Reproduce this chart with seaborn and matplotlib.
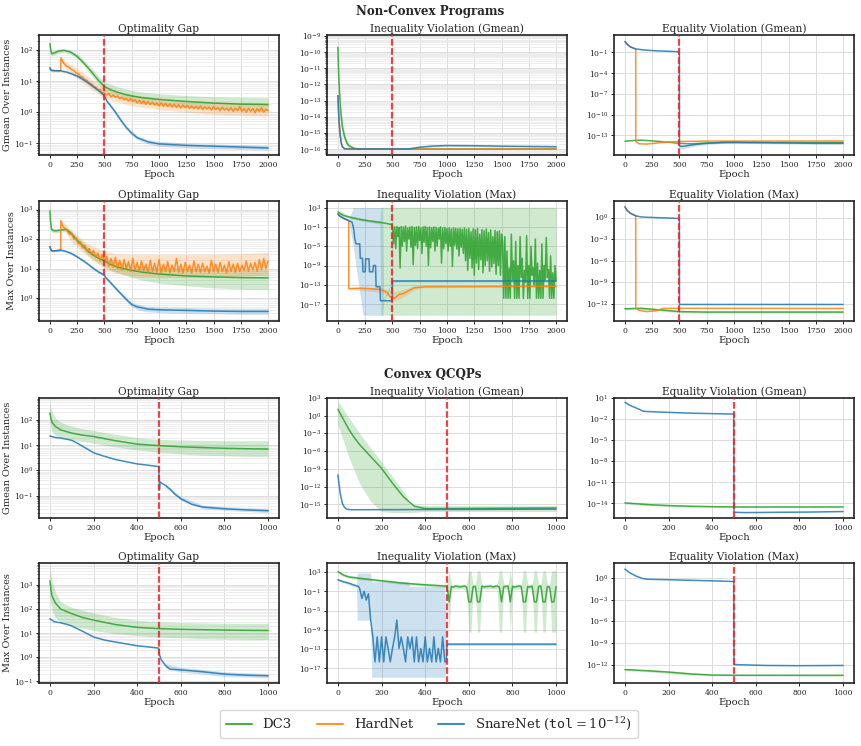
import numpy as np
import matplotlib
matplotlib.use('Agg')
import matplotlib.pyplot as plt
import seaborn as sns
from matplotlib.lines import Line2D
from matplotlib.ticker import FixedLocator, LogLocator, NullLocator, NullFormatter, LogFormatterSciNotation

sns.set_theme(style='whitegrid')
plt.rcParams.update({
    'font.family': ['DejaVu Serif'],
    'mathtext.fontset': 'dejavuserif',
    'axes.edgecolor': '#222222',
    'axes.linewidth': 1.2,
    'xtick.bottom': True, 'ytick.left': True,
    'xtick.major.size': 2.5, 'ytick.major.size': 2.5, 'ytick.minor.size': 1.5,
    'xtick.major.width': 0.7, 'ytick.major.width': 0.7, 'ytick.minor.width': 0.5,
    'xtick.major.pad': 1.5, 'ytick.major.pad': 1.5,
    'xtick.color': '#222222', 'ytick.color': '#222222',
    'xtick.labelsize': 5.5, 'ytick.labelsize': 5.5,
})

GREEN, ORANGE, BLUE = '#2ca02c', '#ff7f0e', '#1f77b4'

def L(v):
    return 10.0 ** np.asarray(v, dtype=float)

def grid(start, n, step):
    return list(range(start, start + step * n, step))

# ================= Non-convex programs =================
# A: Gmean optimality gap
a_dc3_x = [0, 5, 15, 40, 80, 130, 190, 250, 310, 375, 440, 500, 560, 625, 700, 750, 850, 1000, 1250, 1500, 1750, 2000]
a_dc3_y = [160, 110, 75, 80, 92, 97, 85, 62, 38, 21, 11, 6.6, 5.2, 4.3, 3.6, 3.3, 2.9, 2.55, 2.2, 1.95, 1.8, 1.75]
a_dc3_lo = [120, 85, 62, 68, 80, 86, 74, 52, 31, 16, 8.2, 4.6, 3.5, 2.8, 2.3, 2.1, 1.8, 1.6, 1.4, 1.25, 1.15, 1.1]
a_dc3_hi = [200, 140, 90, 95, 106, 110, 98, 74, 47, 28, 15, 9.5, 7.8, 6.5, 5.5, 5.0, 4.4, 3.9, 3.4, 3.1, 3.0, 2.9]
a_hn_head_x = [0, 10, 50, 99]
a_hn_head_y = [25, 22, 21.5, 21.5]
a_hn_tail = [55, 40, 33, 29, 27, 23, 22, 18, 17.5, 14,
             13.5, 11, 10.5, 8.6, 8.2, 6.6, 6.4, 5.2, 5.4, 4.3,
             4.1, 3.6, 3.9, 3.1, 3.5, 3.0, 3.3, 2.7, 3.0, 2.5,
             2.8, 2.3, 2.7, 2.2, 2.5, 2.0, 2.4, 1.9, 2.3, 1.8,
             2.2, 1.75, 2.1, 1.7, 1.95, 1.6, 2.0, 1.55, 1.9, 1.5,
             1.85, 1.45, 1.8, 1.4, 1.75, 1.35, 1.7, 1.4, 1.65, 1.3,
             1.6, 1.3, 1.55, 1.25, 1.6, 1.2, 1.5, 1.25, 1.45, 1.15,
             1.5, 1.2, 1.4, 1.1, 1.45, 1.15, 1.35, 1.1, 1.4, 1.05,
             1.35, 1.1, 1.5, 1.05, 1.3, 1.0, 1.35, 1.05, 1.3, 0.95,
             1.3, 1.05, 1.4, 1.0, 1.25, 1.1]
a_hn_bx = [100, 150, 200, 300, 400, 500, 600, 750, 1000, 1250, 1500, 1750, 2000]
a_hn_lo = [45, 22, 17, 9, 4.8, 2.8, 2.2, 1.6, 1.2, 1.0, 0.85, 0.8, 0.75]
a_hn_hi = [65, 40, 32, 19, 10, 6.0, 4.8, 3.7, 2.8, 2.4, 2.2, 2.1, 2.0]
a_sn_x = [0, 10, 50, 100, 150, 200, 250, 300, 350, 400, 450, 500, 520, 550, 600, 650, 700, 750, 800, 900, 1000, 1250, 1500, 1750, 2000]
a_sn_y = [27, 22, 21.5, 21.3, 19.5, 17, 14.5, 11.5, 8.8, 6.5, 4.8, 3.4, 2.3, 1.7, 1.0, 0.55, 0.32, 0.21, 0.15, 0.11, 0.095, 0.085, 0.08, 0.075, 0.07]
a_sn_lo = [25, 20, 20, 20, 18, 15.5, 13, 10.3, 7.9, 5.8, 4.3, 3.0, 2.0, 1.5, 0.88, 0.48, 0.28, 0.18, 0.13, 0.095, 0.08, 0.072, 0.067, 0.063, 0.06]
a_sn_hi = [29, 24, 23, 22.6, 21, 18.5, 16, 12.7, 9.7, 7.2, 5.3, 3.8, 2.6, 1.9, 1.13, 0.63, 0.37, 0.245, 0.175, 0.13, 0.115, 0.1, 0.095, 0.09, 0.085]

# B: Gmean inequality violation
b_dc3_x = [0, 3, 8, 15, 25, 40, 60, 80, 100, 150, 200, 2000]
b_dc3_y = [2e-10, 3e-11, 3e-12, 3e-13, 2.5e-14, 2.5e-15, 6e-16, 2.5e-16, 1.6e-16, 1.1e-16, 1.0e-16, 1.0e-16]
b_dc3_lo = [1e-10, 1.5e-11, 1.5e-12, 1.5e-13, 1.2e-14, 1.2e-15, 3.5e-16, 1.7e-16, 1.2e-16, 1.0e-16, 0.95e-16, 0.95e-16]
b_dc3_hi = [6e-10, 8e-11, 8e-12, 8e-13, 6e-14, 6e-15, 1.2e-15, 4e-16, 2.2e-16, 1.25e-16, 1.05e-16, 1.05e-16]
b_hn_x = [0, 5, 10, 20, 30, 40, 60, 100, 2000]
b_hn_y = [2e-13, 3e-14, 6e-15, 8e-16, 2.5e-16, 1.4e-16, 1.05e-16, 1.0e-16, 1.0e-16]
b_sn_x = [0, 5, 10, 20, 30, 40, 60, 100, 650, 750, 850, 1000, 1250, 1500, 1750, 2000]
b_sn_y = [2e-13, 3e-14, 6e-15, 8e-16, 2.5e-16, 1.4e-16, 1.05e-16, 1.0e-16, 1.02e-16, 1.3e-16, 1.5e-16, 1.65e-16, 1.6e-16, 1.5e-16, 1.45e-16, 1.4e-16]
b_sn_lo = [1e-13, 1.5e-14, 3e-15, 5e-16, 2e-16, 1.2e-16, 1.0e-16, 0.97e-16, 0.98e-16, 1.15e-16, 1.3e-16, 1.45e-16, 1.4e-16, 1.32e-16, 1.3e-16, 1.25e-16]
b_sn_hi = [4e-13, 6e-14, 1.2e-14, 1.5e-15, 3.5e-16, 1.7e-16, 1.1e-16, 1.03e-16, 1.07e-16, 1.45e-16, 1.7e-16, 1.9e-16, 1.85e-16, 1.7e-16, 1.65e-16, 1.58e-16]

# C: Gmean equality violation
c_dc3_x = [0, 100, 150, 250, 400, 500, 600, 750, 1000, 1500, 2000]
c_dc3_y = [1.4e-14, 1.9e-14, 2e-14, 1.6e-14, 1e-14, 7e-15, 6e-15, 8e-15, 9e-15, 9e-15, 9e-15]
c_hn_x = [0, 20, 50, 99, 100, 130, 200, 300, 400, 500, 750, 1000, 2000]
c_hn_y = [3.5, 1.5, 0.6, 0.3, 1.2e-14, 6e-15, 5.5e-15, 8e-15, 1.1e-14, 1.3e-14, 1.5e-14, 1.5e-14, 1.5e-14]
c_sn_x = [0, 20, 50, 100, 200, 300, 400, 499, 500, 520, 560, 650, 750, 900, 1000, 1250, 1500, 1750, 2000]
c_sn_y = [3.5, 1.5, 0.6, 0.3, 0.2, 0.16, 0.14, 0.12, 3e-15, 2.5e-15, 3e-15, 5e-15, 7e-15, 1e-14, 1e-14, 9e-15, 8e-15, 7e-15, 7e-15]
c_sn_bx = [500, 520, 560, 650, 750, 900, 1000, 1250, 1500, 1750, 2000]
c_sn_lo = [1.2e-15, 1e-15, 1.5e-15, 3e-15, 4.5e-15, 7e-15, 7e-15, 6.3e-15, 5.5e-15, 5e-15, 5e-15]
c_sn_hi = [5e-15, 4.5e-15, 5e-15, 7e-15, 1e-14, 1.4e-14, 1.4e-14, 1.3e-14, 1.15e-14, 1e-14, 1e-14]

# D: Max optimality gap
d_dc3_x = [0, 5, 15, 40, 80, 150, 200, 250, 300, 350, 400, 450, 500, 550, 625, 700, 750, 850, 1000, 1250, 1500, 1750, 2000]
d_dc3_y = [900, 400, 210, 190, 195, 215, 150, 90, 60, 38, 28, 22, 18, 14, 11, 9.5, 8.6, 7.5, 6.5, 5.6, 5.2, 4.9, 4.8]
d_dc3_lo = [600, 300, 170, 160, 165, 180, 120, 70, 45, 28, 20, 15, 12, 9, 7, 5.8, 5, 4, 3.2, 2.6, 2.2, 2.0, 1.9]
d_dc3_hi = [1200, 500, 250, 225, 230, 250, 185, 115, 80, 52, 40, 32, 27, 21, 17, 15, 13, 12, 11, 10, 9.5, 9, 9]
d_hn_head_x = [0, 5, 15, 50, 99]
d_hn_head_y = [55, 48, 40, 40, 42]
d_hn_tail = [420, 260, 230, 190, 140, 150, 100, 110, 70, 80,
             50, 62, 38, 48, 30, 40, 24, 33, 18, 30,
             16, 26, 12, 22, 11, 24, 10, 19, 9, 20,
             10, 17, 8, 22, 9, 16, 8, 18, 8.5, 14,
             7, 19, 8, 15, 7.5, 20, 7, 14, 8, 17,
             7, 13, 8, 22, 7.5, 14, 7, 16, 8, 13,
             7, 18, 8, 14, 7.5, 15, 8, 12, 7, 19,
             8, 14, 7.5, 16, 8, 13, 7, 17, 8, 14,
             7.5, 15, 8, 13, 8.5, 18, 8, 15, 9, 16,
             8, 20, 9, 22, 10, 18]
d_hn_bx = [100, 150, 200, 300, 400, 500, 600, 750, 1000, 1250, 1500, 1750, 2000]
d_hn_lo = [300, 150, 80, 35, 18, 10, 7, 5.5, 5, 5, 5, 5.5, 6]
d_hn_hi = [500, 300, 200, 90, 55, 40, 32, 30, 30, 30, 30, 32, 35]
d_sn_x = [0, 5, 15, 50, 100, 150, 200, 250, 300, 350, 400, 450, 500, 510, 550, 600, 650, 700, 750, 800, 900, 1000, 1250, 1500, 1750, 2000]
d_sn_y = [55, 48, 40, 40, 42, 38, 32, 25, 19, 14, 10, 7.5, 6, 5, 3.5, 2.2, 1.4, 0.9, 0.6, 0.5, 0.42, 0.4, 0.38, 0.36, 0.35, 0.35]
d_sn_lo = [50, 44, 37, 37, 39, 35, 29, 23, 17, 12.7, 9, 6.8, 5.4, 4.5, 3.1, 1.95, 1.2, 0.78, 0.5, 0.4, 0.34, 0.32, 0.3, 0.29, 0.28, 0.28]
d_sn_hi = [60, 52, 43, 43, 45, 41, 35, 27, 21, 15.5, 11, 8.3, 6.7, 5.6, 3.9, 2.5, 1.6, 1.05, 0.72, 0.62, 0.52, 0.5, 0.48, 0.46, 0.45, 0.45]

# E: Max inequality violation (log10 values)
e_dc3_head_x = [0, 20, 50, 100, 150, 200, 250, 300, 350, 400, 450, 490]
e_dc3_head_log = [2.1, 1.8, 1.4, 1.07, 0.8, 0.55, 0.38, 0.2, 0.05, -0.1, -0.3, -0.5]
e_dc3_tail_log = [
    -0.8, -4.5, -1.0, -5.5, -0.9, -3.0, -1.1, -9.5, -0.9, -5.0, -1.0, -4.0, -0.8, -6.0, -1.2, -3.5,
    -1.0, -5.2, -0.9, -8.8, -1.1, -4.8, -1.0, -5.5, -0.9, -3.8, -1.2, -6.5, -1.0, -4.2, -0.9, -5.0,
    -1.1, -9.0, -1.0, -5.3, -1.2, -4.0, -1.0, -6.0, -1.1, -5.0, -1.3, -3.5, -1.0, -8.5, -1.2, -5.5,
    -1.1, -4.5, -1.3, -6.0, -1.2, -5.0, -1.4, -9.2, -1.2, -4.8, -1.3, -5.6, -1.4, -7.0, -1.3, -5.2,
    -1.5, -6.5,
    -1.2, -8.0, -1.5, -10.0, -1.3, -7.5, -2.0, -9.5, -1.4, -11.0, -1.6, -8.5, -1.3, -9.8, -2.5, -7.8,
    -1.5, -10.5, -1.8, -9.0, -1.4, -8.0, -2.2, -10.2, -1.6, -9.3, -3.0, -8.6, -1.7, -10.8, -2.0, -9.0,
    -1.8, -11.0, -2.5,
    -4.0, -15.8, -3.0, -15.8, -6.0, -15.8, -9.5, -15.8, -2.5, -12.0, -8.0, -15.8, -4.0, -15.8, -9.0,
    -15.8, -3.0, -11.5, -7.5, -15.8, -10.0, -12.5, -2.8, -15.8, -9.0, -15.8, -5.0, -11.0, -9.5, -13.0,
    -3.5, -15.8, -8.5, -15.8, -10.0, -15.8, -4.5, -15.8, -9.0, -12.0, -3.2, -11.5, -9.8, -15.8, -7.0,
    -15.8, -10.5, -15.8, -9.0, -12.0]
e_dc3_bx = [0, 100, 300, 385, 395, 2000]
e_dc3_hi_log = [2.5, 1.4, 0.5, 0.3, 3.1, 3.1]
e_dc3_lo_log = [1.7, 0.8, -0.1, -0.4, -19.3, -19.3]
e_hn_x = [0, 20, 50, 99, 100, 200, 300, 400, 450, 480, 520, 560, 600, 650, 700, 800, 2000]
e_hn_log = [1.7, 1.2, 0.8, 0.3, -13.8, -13.7, -13.8, -14.0, -14.6, -15.5, -15.8, -15.0, -14.8, -14.2, -13.6, -13.4, -13.3]
e_hn_bx = [100, 400, 450, 500, 560, 650, 700, 800, 2000]
e_hn_hi_log = [-13.5, -13.6, -14.0, -14.5, -14.2, -13.6, -13.3, -13.2, -13.1]
e_hn_lo_log = [-14.0, -14.5, -15.3, -16.3, -16.0, -14.8, -14.0, -13.6, -13.5]
e_sn_x = [0, 20, 50, 100, 130, 145, 155, 165, 200, 205, 225, 230, 250, 255, 285, 290, 320, 325, 345, 350, 385, 390, 498, 500, 2000]
e_sn_log = [1.7, 1.2, 0.8, 0.3, 0.0, -1.5, -3.5, -4.5, -4.5, -7.5, -7.5, -10.3, -10.3, -7.6, -7.6, -10.3, -10.3, -9.0, -9.0, -13.4, -13.4, -16.3, -16.3, -12.2, -12.2]
e_sn_bx = [0, 100, 140, 230, 410, 420, 500, 2000]
e_sn_hi_log = [1.9, 0.6, 3.0, 3.0, 3.0, -16.0, -12.0, -12.0]
e_sn_lo_log = [1.5, 0.0, -5.0, -19.3, -19.3, -16.6, -12.4, -12.4]

# F: Max equality violation
f_dc3_x = [0, 100, 150, 250, 400, 500, 750, 1000, 2000]
f_dc3_y = [2e-13, 2.2e-13, 2.3e-13, 1.7e-13, 1.1e-13, 8e-14, 7e-14, 7e-14, 7e-14]
f_dc3_lo = [1.3e-13, 1.5e-13, 1.6e-13, 1.2e-13, 7.5e-14, 5.5e-14, 4.8e-14, 4.8e-14, 4.8e-14]
f_dc3_hi = [3e-13, 3.2e-13, 3.3e-13, 2.5e-13, 1.6e-13, 1.15e-13, 1e-13, 1e-13, 1e-13]
f_hn_x = [0, 20, 50, 99, 100, 130, 200, 280, 350, 500, 2000]
f_hn_y = [30, 10, 4, 1.7, 2.5e-13, 1.2e-13, 8e-14, 1e-13, 2.2e-13, 2.3e-13, 2.2e-13]
f_sn_x = [0, 20, 50, 100, 150, 200, 300, 400, 499, 500, 2000]
f_sn_y = [30, 10, 4, 1.7, 1.2, 1.1, 0.95, 0.85, 0.73, 8e-13, 8e-13]

# ================= Convex QCQPs =================
# G: Gmean optimality gap
g_dc3_x = [0, 5, 10, 25, 50, 100, 150, 200, 300, 400, 500, 600, 700, 800, 900, 1000]
g_dc3_y = [190, 110, 80, 55, 40, 30, 25, 22, 15, 11, 9.5, 8.6, 8.0, 7.5, 7.2, 7.0]
g_dc3_lo = [90, 50, 35, 25, 19, 16, 14, 12, 8.5, 6.5, 5.2, 4.5, 4.0, 3.8, 3.6, 3.5]
g_dc3_hi = [500, 300, 200, 120, 80, 55, 45, 38, 27, 20, 17, 16, 15.5, 15, 15, 15]
g_sn_x = [0, 25, 50, 80, 100, 125, 150, 200, 250, 300, 350, 400, 450, 499, 500, 502, 505, 515, 530, 550, 575, 600, 650, 700, 800, 900, 1000]
g_sn_y = [23, 20, 19, 17, 15.5, 12, 9, 5, 3.6, 2.7, 2.2, 1.8, 1.6, 1.4, 0.6, 0.17, 0.35, 0.3, 0.25, 0.18, 0.11, 0.075, 0.045, 0.035, 0.03, 0.027, 0.025]
g_sn_bx = [530, 600, 700, 800, 1000]
g_sn_lo = [0.22, 0.065, 0.03, 0.026, 0.021]
g_sn_hi = [0.29, 0.09, 0.042, 0.036, 0.031]

# H: Gmean inequality violation (log10)
h_dc3_x = [0, 25, 50, 75, 100, 150, 200, 250, 300, 350, 400, 500, 1000]
h_dc3_log = [1.1, -0.6, -2.3, -3.7, -4.9, -6.9, -8.9, -11.4, -13.7, -15.3, -15.7, -15.7, -15.6]
h_dc3_bx = [0, 50, 100, 150, 200, 250, 300, 315, 330, 400, 500, 1000]
h_dc3_hi_log = [2.5, -0.3, -3.0, -5.5, -7.8, -10.3, -12.8, -13.6, -15.0, -15.2, -15.2, -15.2]
h_dc3_lo_log = [-1.5, -7.0, -11.5, -14.5, -16.2, -16.4, -16.4, -16.4, -16.4, -16.2, -16.2, -16.2]
h_sn_x = [0, 5, 10, 20, 30, 40, 60, 100, 1000]
h_sn_log = [-10.0, -11.5, -13.0, -14.8, -15.5, -15.8, -15.9, -15.9, -15.8]

# I: Gmean equality violation
i_dc3_x = [0, 100, 200, 300, 400, 500, 1000]
i_dc3_y = [1.2e-14, 7e-15, 5e-15, 4e-15, 3.5e-15, 3.2e-15, 3.2e-15]
i_dc3_lo = [8e-15, 5e-15, 3.5e-15, 3e-15, 2.8e-15, 2.8e-15, 2.8e-15]
i_dc3_hi = [1.6e-14, 1e-14, 7e-15, 5.5e-15, 4.2e-15, 3.7e-15, 3.7e-15]
i_sn_x = [0, 20, 50, 85, 100, 200, 300, 400, 499, 500, 550, 700, 850, 1000]
i_sn_y = [2.5, 1.0, 0.4, 0.13, 0.12, 0.09, 0.07, 0.06, 0.052, 5.5e-16, 5e-16, 5.5e-16, 6e-16, 7e-16]

# J: Max optimality gap
j_dc3_x = [0, 5, 10, 25, 50, 100, 150, 200, 300, 400, 500, 600, 700, 800, 900, 1000]
j_dc3_y = [1500, 600, 350, 180, 100, 65, 45, 35, 23, 17.5, 15.5, 14.5, 14, 13.5, 13.2, 13]
j_dc3_lo = [300, 150, 90, 45, 28, 20, 16, 13, 9.5, 8, 7, 6.5, 6, 5.8, 5.6, 5.5]
j_dc3_hi = [8000, 3000, 1500, 500, 200, 120, 90, 70, 45, 35, 30, 28, 27, 26, 26, 26]
j_sn_x = [0, 20, 50, 80, 100, 150, 200, 250, 300, 350, 400, 450, 499, 502, 510, 530, 550, 600, 700, 800, 900, 1000]
j_sn_y = [40, 30, 27, 23, 20, 12, 7, 5.2, 4.3, 3.6, 3.0, 2.7, 2.4, 1.3, 0.8, 0.45, 0.32, 0.3, 0.25, 0.2, 0.18, 0.17]
j_sn_bx = [530, 600, 700, 800, 1000]
j_sn_lo = [0.36, 0.24, 0.2, 0.16, 0.14]
j_sn_hi = [0.55, 0.38, 0.31, 0.25, 0.21]

# K: Max inequality violation (log10)
k_dc3_head_x = [0, 25, 50, 100, 150, 200, 300, 400, 490]
k_dc3_head_log = [3.1, 2.4, 2.0, 1.7, 1.45, 1.2, 0.7, 0.35, 0.1]
k_dc3_head_hi = [3.4, 2.7, 2.3, 2.0, 1.7, 1.45, 1.0, 0.65, 0.45]
k_dc3_head_lo = [2.8, 2.1, 1.7, 1.4, 1.2, 0.95, 0.4, 0.05, -0.2]
k_dc3_tail_log = [0.1, -3.2, 0.0, -0.1, 0.1, 0.0, -0.1, 0.0, 0.1, -0.1,
                  -3.2, -3.2, 0.0, 0.0, -3.2, -3.2, 0.1, -0.1, 0.0, 0.0,
                  0.1, -0.1, 0.0, 0.1, -0.1, -3.2, 0.0, 0.0, 0.1, -3.2,
                  0.0, -0.1, 0.0, 0.1, 0.0, -3.2, -3.2, 0.0, -0.1, 0.1,
                  -3.2, -3.2, 0.0, 0.1, -3.2, -3.2, 0.0, -0.1, -3.2, -3.2,
                  0.0]
k_dc3_tail_hi = [0.5, 3.3, 0.5, 0.4, 0.5, 0.5, 0.4, 0.5, 0.5, 0.4,
                 3.3, 3.2, 0.5, 0.5, 3.3, 3.3, 0.5, 0.4, 0.5, 0.5,
                 0.5, 0.4, 0.5, 0.5, 3.2, 3.3, 0.5, 0.5, 0.5, 3.3,
                 0.5, 0.4, 0.5, 0.5, 0.5, 3.3, 3.3, 0.5, 0.4, 0.5,
                 3.3, 3.3, 0.5, 0.5, 3.3, 3.3, 0.5, 0.5, 3.3, 3.3,
                 3.3]
k_dc3_tail_lo = [-0.5, -9.5, -0.6, -0.5, -0.5, -0.6, -0.5, -0.5, -0.6, -0.5,
                 -9.5, -9.5, -0.5, -0.6, -9.5, -9.5, -0.5, -0.5, -0.6, -0.5,
                 -0.5, -0.6, -0.5, -0.5, -9.5, -9.5, -0.5, -0.6, -0.5, -9.5,
                 -0.5, -0.5, -0.6, -0.5, -0.5, -9.5, -9.5, -0.5, -0.6, -0.5,
                 -9.5, -9.5, -0.5, -0.5, -9.5, -9.5, -0.5, -0.6, -9.5, -9.5,
                 -9.5]
k_sn_head_x = [0, 25, 50, 75, 95]
k_sn_head_log = [1.4, 1.0, 0.7, 0.3, 0.0]
k_sn_mid_log = [-0.5, -2.5, -1.0, -2.8, -1.5, -7.0, -10.5, -15.7, -10.5, -15.7,
                -10.5, -15.7, -10.5, -12.9, -15.7, -12.9, -10.5, -7.0, -12.9, -10.5,
                -12.9, -15.7, -10.5, -12.9, -10.5, -15.7, -10.5, -15.7, -12.9, -15.7,
                -10.5, -15.7, -12.9, -15.7, -10.5, -15.7, -12.9, -15.7, -10.5, -15.7]
k_sn_end_x = [497, 500, 1000]
k_sn_end_log = [-15.7, -12.0, -12.0]
k_sn_bx = [0, 85, 88, 150, 155, 320, 330, 490, 495, 500, 1000]
k_sn_hi_log = [1.6, 0.3, 2.8, 2.8, 1.0, 1.0, 0.0, 0.0, -11.5, -11.8, -11.8]
k_sn_lo_log = [1.2, -0.2, -7.0, -7.0, -18.9, -18.9, -18.9, -18.9, -16.0, -12.3, -12.3]

# L: Max equality violation
l_dc3_x = [0, 100, 200, 300, 400, 500, 1000]
l_dc3_y = [2e-13, 1.4e-13, 9e-14, 5e-14, 3.5e-14, 3.3e-14, 3.2e-14]
l_dc3_lo = [1.5e-13, 1e-13, 6e-14, 3.5e-14, 2.7e-14, 2.6e-14, 2.6e-14]
l_dc3_hi = [2.7e-13, 2e-13, 1.4e-13, 8e-14, 4.5e-14, 4.2e-14, 4.2e-14]
l_sn_x = [0, 20, 50, 80, 100, 200, 300, 400, 499, 500, 550, 650, 800, 1000]
l_sn_y = [18, 6, 2, 0.9, 0.7, 0.6, 0.5, 0.42, 0.34, 1.0e-12, 9e-13, 7.5e-13, 7e-13, 7.5e-13]


def S(x, y, color, bx=None, lo=None, hi=None):
    return dict(x=list(x), y=np.asarray(y, dtype=float), color=color, bx=bx, lo=lo, hi=hi)


e_dc3_x = e_dc3_head_x + grid(500, len(e_dc3_tail_log), 10)
k_dc3_x = k_dc3_head_x + grid(500, len(k_dc3_tail_log), 10)
k_sn_x = k_sn_head_x + grid(100, len(k_sn_mid_log), 10) + k_sn_end_x

panels = [
    # (row, col, title, ylim(log10), yticks(log10), minor, series)
    (0, 0, 'Optimality Gap', (-1.38, 2.48), [-1, 0, 1, 2], True, [
        S(a_dc3_x, a_dc3_y, GREEN, a_dc3_x, a_dc3_lo, a_dc3_hi),
        S(a_hn_head_x + grid(100, len(a_hn_tail), 20), a_hn_head_y + a_hn_tail, ORANGE, a_hn_bx, a_hn_lo, a_hn_hi),
        S(a_sn_x, a_sn_y, BLUE, a_sn_x, a_sn_lo, a_sn_hi)]),
    (0, 1, 'Inequality Violation (Gmean)', (-16.37, -8.94), list(range(-16, -8)), True, [
        S(b_dc3_x, b_dc3_y, GREEN, b_dc3_x, b_dc3_lo, b_dc3_hi),
        S(b_hn_x, b_hn_y, ORANGE),
        S(b_sn_x, b_sn_y, BLUE, b_sn_x, b_sn_lo, b_sn_hi)]),
    (0, 2, 'Equality Violation (Gmean)', (-15.84, 1.5), [-13, -10, -7, -4, -1], False, [
        S(c_dc3_x, c_dc3_y, GREEN),
        S(c_hn_x, c_hn_y, ORANGE),
        S(c_sn_x, c_sn_y, BLUE, c_sn_bx, c_sn_lo, c_sn_hi)]),
    (1, 0, 'Optimality Gap', (-0.78, 3.29), [0, 1, 2, 3], True, [
        S(d_dc3_x, d_dc3_y, GREEN, d_dc3_x, d_dc3_lo, d_dc3_hi),
        S(d_hn_head_x + grid(100, len(d_hn_tail), 20), d_hn_head_y + d_hn_tail, ORANGE, d_hn_bx, d_hn_lo, d_hn_hi),
        S(d_sn_x, d_sn_y, BLUE, d_sn_x, d_sn_lo, d_sn_hi)]),
    (1, 1, 'Inequality Violation (Max)', (-20.5, 4.38), [-17, -13, -9, -5, -1, 3], False, [
        S(e_dc3_x, L(e_dc3_head_log + e_dc3_tail_log), GREEN, e_dc3_bx, L(e_dc3_lo_log), L(e_dc3_hi_log)),
        S(e_hn_x, L(e_hn_log), ORANGE, e_hn_bx, L(e_hn_lo_log), L(e_hn_hi_log)),
        S(e_sn_x, L(e_sn_log), BLUE, e_sn_bx, L(e_sn_lo_log), L(e_sn_hi_log))]),
    (1, 2, 'Equality Violation (Max)', (-14.4, 2.3), [-12, -9, -6, -3, 0], False, [
        S(f_dc3_x, f_dc3_y, GREEN, f_dc3_x, f_dc3_lo, f_dc3_hi),
        S(f_hn_x, f_hn_y, ORANGE),
        S(f_sn_x, f_sn_y, BLUE)]),
    (2, 0, 'Optimality Gap', (-1.89, 2.87), [-1, 0, 1, 2], True, [
        S(g_dc3_x, g_dc3_y, GREEN, g_dc3_x, g_dc3_lo, g_dc3_hi),
        S(g_sn_x, g_sn_y, BLUE, g_sn_bx, g_sn_lo, g_sn_hi)]),
    (2, 1, 'Inequality Violation (Gmean)', (-17.3, 3.0), [-15, -12, -9, -6, -3, 0, 3], False, [
        S(h_dc3_x, L(h_dc3_log), GREEN, h_dc3_bx, L(h_dc3_lo_log), L(h_dc3_hi_log)),
        S(h_sn_x, L(h_sn_log), BLUE)]),
    (2, 2, 'Equality Violation (Gmean)', (-16.07, 1.0), [-14, -11, -8, -5, -2, 1], False, [
        S(i_dc3_x, i_dc3_y, GREEN, i_dc3_x, i_dc3_lo, i_dc3_hi),
        S(i_sn_x, i_sn_y, BLUE)]),
    (3, 0, 'Optimality Gap', (-1.07, 3.92), [-1, 0, 1, 2, 3], True, [
        S(j_dc3_x, j_dc3_y, GREEN, j_dc3_x, j_dc3_lo, j_dc3_hi),
        S(j_sn_x, j_sn_y, BLUE, j_sn_bx, j_sn_lo, j_sn_hi)]),
    (3, 1, 'Inequality Violation (Max)', (-20.1, 4.9), [-17, -13, -9, -5, -1, 3], False, [
        S(k_dc3_x, L(k_dc3_head_log + k_dc3_tail_log), GREEN, k_dc3_x,
          L(k_dc3_head_lo + k_dc3_tail_lo), L(k_dc3_head_hi + k_dc3_tail_hi)),
        S(k_sn_x, L(k_sn_head_log + k_sn_mid_log + k_sn_end_log), BLUE, k_sn_bx, L(k_sn_lo_log), L(k_sn_hi_log))]),
    (3, 2, 'Equality Violation (Max)', (-14.56, 2.1), [-12, -9, -6, -3, 0], False, [
        S(l_dc3_x, l_dc3_y, GREEN, l_dc3_x, l_dc3_lo, l_dc3_hi),
        S(l_sn_x, l_sn_y, BLUE)]),
]

W, H = 861, 746
fig = plt.figure(figsize=(W / 100, H / 100), dpi=100)
col_x = [39, 327, 614]
row_y = [35, 201, 398, 563]
ylabels = ['Gmean Over Instances', 'Max Over Instances', 'Gmean Over Instances', 'Max Over Instances']

for row, col, title, ylim, yt, minor, series in panels:
    ax = fig.add_axes([col_x[col] / W, 1 - (row_y[row] + 120) / H, 240 / W, 120 / H])
    ax.set_yscale('log')
    nonconvex = row < 2
    for s in series:
        if s['lo'] is not None:
            ax.fill_between(s['bx'], s['lo'], s['hi'], color=s['color'], alpha=0.22, lw=0, zorder=1)
    for s in series:
        sns.lineplot(x=s['x'], y=s['y'], ax=ax, color=s['color'], lw=1.1, alpha=0.85,
                     estimator=None, sort=False, legend=False, zorder=3)
    ax.axvline(500, color='#e8262b', lw=1.6, alpha=0.85, ls=(0, (3.0, 1.1)), zorder=4)
    ax.set_ylim(10.0 ** ylim[0], 10.0 ** ylim[1])
    ax.yaxis.set_major_locator(FixedLocator([10.0 ** k for k in yt]))
    ax.yaxis.set_major_formatter(LogFormatterSciNotation())
    if minor:
        ax.yaxis.set_minor_locator(LogLocator(base=10, subs=np.arange(2, 10), numticks=60))
    else:
        ax.yaxis.set_minor_locator(NullLocator())
    ax.yaxis.set_minor_formatter(NullFormatter())
    if nonconvex:
        ax.set_xlim(-100, 2100)
        ax.set_xticks(range(0, 2001, 250))
    else:
        ax.set_xlim(-50, 1050)
        ax.set_xticks(range(0, 1001, 200))
    ax.grid(True, which='major', color='#dcdcdc', lw=0.7)
    ax.grid(True, which='minor', axis='y', color='#e8e8e8', lw=0.55)
    ax.set_axisbelow(True)
    ax.set_title(title, fontsize=7.6, pad=2.5)
    ax.set_xlabel('Epoch', fontsize=7.2, labelpad=1)
    ax.set_ylabel(ylabels[row] if col == 0 else '', fontsize=7.0, labelpad=2)
    for sp in ax.spines.values():
        sp.set_color('#222222')
        sp.set_linewidth(1.2)

fig.text(0.5, 1 - 12 / H, 'Non-Convex Programs', ha='center', va='center', fontsize=8.6, fontweight='bold')
fig.text(0.503, 1 - 374 / H, 'Convex QCQPs', ha='center', va='center', fontsize=8.6, fontweight='bold')

handles = [Line2D([], [], color=GREEN, lw=1.5, alpha=0.85),
           Line2D([], [], color=ORANGE, lw=1.5, alpha=0.85),
           Line2D([], [], color=BLUE, lw=1.5, alpha=0.85)]
labels = ['DC3', 'HardNet', r'SnareNet ($\mathtt{tol}=10^{-12}$)']
fig.legend(handles, labels, loc='center', bbox_to_anchor=(0.498, 1 - 724 / H), ncol=3,
           fontsize=9.5, frameon=True, fancybox=True, handlelength=2.0, columnspacing=1.9,
           borderpad=0.45, edgecolor='#cccccc')

fig.savefig('out.png', dpi=100)
